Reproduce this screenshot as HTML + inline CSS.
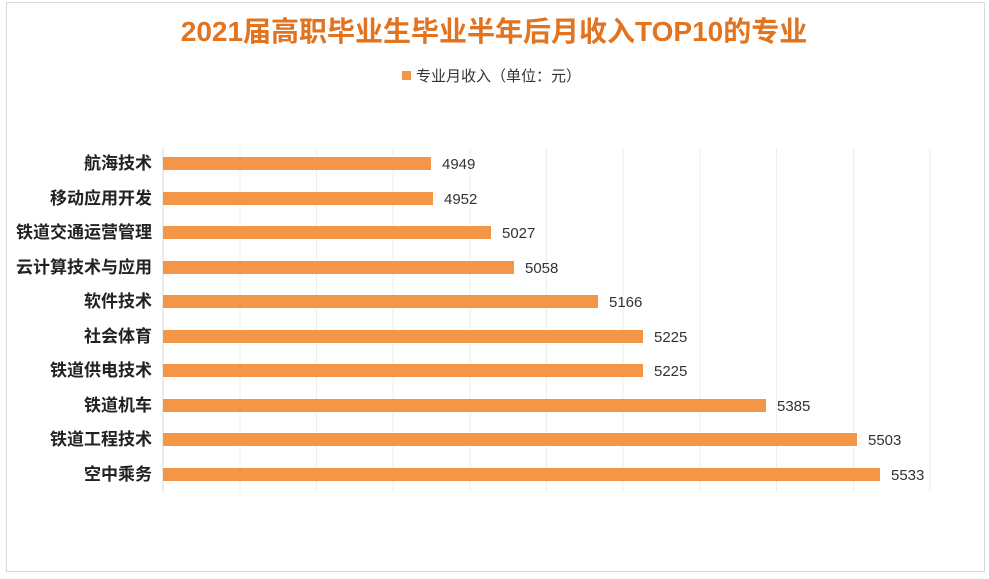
<!DOCTYPE html>
<html><head><meta charset="utf-8"><style>
body{margin:0;background:#fff;width:989px;height:579px;overflow:hidden;font-family:"Liberation Sans","Noto Sans CJK SC",sans-serif}
</style></head><body>
<svg width="989" height="579" xmlns="http://www.w3.org/2000/svg" style="position:absolute;left:0;top:0">
<rect x="6.5" y="2.5" width="978" height="569" fill="#fff" stroke="#d9d9d9"/>
<text x="494" y="41" text-anchor="middle" font-size="28" font-weight="bold" fill="#E2731F" font-family="Liberation Sans,Noto Sans CJK SC,sans-serif">2021届高职毕业生毕业半年后月收入TOP10的专业</text>
<rect x="402" y="71" width="9" height="9" fill="#F39645"/>
<text x="416" y="81" font-size="15" fill="#333" font-family="Liberation Sans,Noto Sans CJK SC,sans-serif">专业月收入（单位：元）</text>
<g stroke="#ededed" stroke-width="1">
<line x1="240" y1="148" x2="240" y2="492"/><line x1="316.5" y1="148" x2="316.5" y2="492"/><line x1="393" y1="148" x2="393" y2="492"/><line x1="470" y1="148" x2="470" y2="492"/><line x1="546.5" y1="148" x2="546.5" y2="492"/><line x1="623" y1="148" x2="623" y2="492"/><line x1="700" y1="148" x2="700" y2="492"/><line x1="776.5" y1="148" x2="776.5" y2="492"/><line x1="853.5" y1="148" x2="853.5" y2="492"/><line x1="930" y1="148" x2="930" y2="492"/>
</g>
<line x1="163" y1="148" x2="163" y2="492" stroke="#d9d9d9"/>
<g fill="#F39645">
<rect x="163" y="157" width="268" height="13"/>
<rect x="163" y="192" width="270" height="13"/>
<rect x="163" y="226" width="328" height="13"/>
<rect x="163" y="261" width="351" height="13"/>
<rect x="163" y="295" width="435" height="13"/>
<rect x="163" y="330" width="480" height="13"/>
<rect x="163" y="364" width="480" height="13"/>
<rect x="163" y="399" width="603" height="13"/>
<rect x="163" y="433" width="694" height="13"/>
<rect x="163" y="468" width="717" height="13"/>
</g>
<g font-size="15" fill="#333" font-family="Liberation Sans,sans-serif">
<text x="442" y="169">4949</text><text x="444" y="204">4952</text><text x="502" y="238">5027</text><text x="525" y="273">5058</text><text x="609" y="307">5166</text><text x="654" y="342">5225</text><text x="654" y="376">5225</text><text x="777" y="411">5385</text><text x="868" y="445">5503</text><text x="891" y="480">5533</text>
</g>
<g font-size="17" font-weight="bold" fill="#222" text-anchor="end" font-family="Liberation Sans,Noto Sans CJK SC,sans-serif">
<text x="152" y="169">航海技术</text><text x="152" y="204">移动应用开发</text><text x="152" y="238">铁道交通运营管理</text><text x="152" y="273">云计算技术与应用</text><text x="152" y="307">软件技术</text><text x="152" y="342">社会体育</text><text x="152" y="376">铁道供电技术</text><text x="152" y="411">铁道机车</text><text x="152" y="445">铁道工程技术</text><text x="152" y="480">空中乘务</text>
</g>
</svg>
</body></html>
